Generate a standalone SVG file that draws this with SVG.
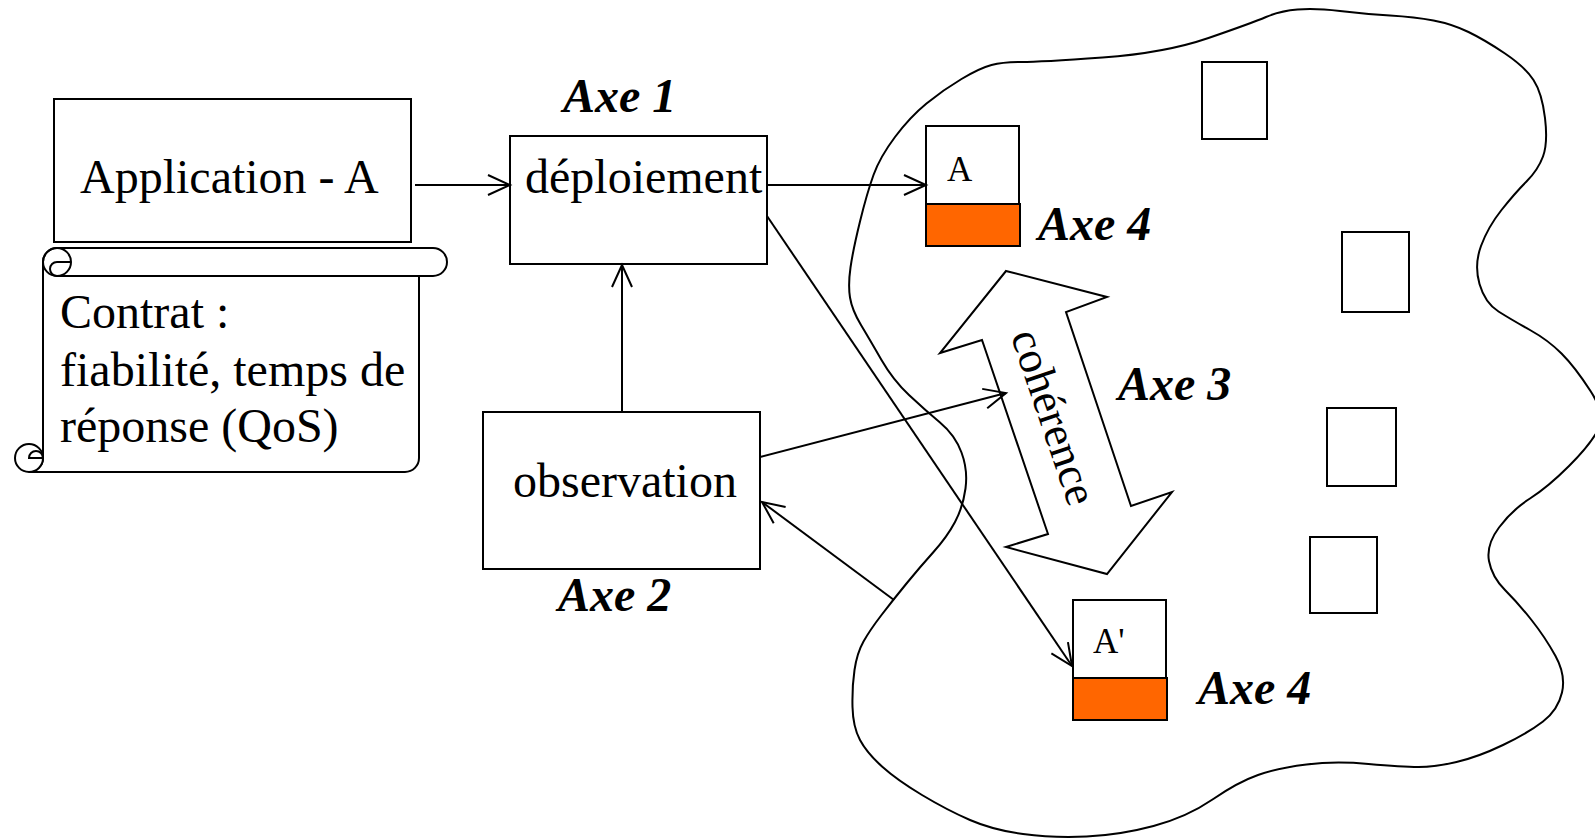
<svg xmlns="http://www.w3.org/2000/svg" width="1595" height="840" viewBox="0 0 1595 840">
<defs>
<style>
.t{font-family:"Liberation Serif","Times New Roman",serif;fill:#000}
.lbl{font-size:48px}
.axe{font-size:48px;font-weight:bold;font-style:italic}
.small{font-size:35px}
.box{fill:#fff;stroke:#000;stroke-width:2}
.org{fill:#FF6600;stroke:#000;stroke-width:2}
.ln{fill:none;stroke:#000;stroke-width:2}
.conn{fill:none;stroke:#000;stroke-width:2;marker-end:url(#arr)}
</style>
<marker id="arr" markerUnits="userSpaceOnUse" markerWidth="26" markerHeight="26" refX="22" refY="11" orient="auto" overflow="visible">
<path d="M0,1 L22,11 L0,21" fill="none" stroke="#000" stroke-width="2"/>
</marker>
</defs>
<rect width="1595" height="840" fill="#fff"/>

<g id="cloud">
<path class="ln" d="M 991.5,65 Q 1003,62 1021.5,62 Q 1040,62 1102.5,57.5 Q 1165,53 1208.5,38 Q 1252,23 1266,17 Q 1280,11 1297.5,9.5 Q 1315,8 1340,11 Q 1365,14 1390,15.5 Q 1415,17 1433.5,20.5 Q 1452,24 1468.5,32 Q 1485,40 1505,53.5 Q 1525,67 1533.5,80 Q 1542,93 1545,118 Q 1548,143 1543,156.5 Q 1538,170 1526.5,181.5 Q 1515,193 1501.5,210 Q 1488,227 1481,246 Q 1474,265 1479.5,284 Q 1485,303 1498.5,311.5 Q 1512,320 1530,330 Q 1548,340 1561.5,353.5 Q 1575,367 1590.5,391 Q 1606,415 1598,430 Q 1590,445 1569,466 Q 1548,487 1530,498.5 Q 1512,510 1499,527.5 Q 1486,545 1489,561 Q 1492,577 1505,590 Q 1518,603 1531.5,620 Q 1545,637 1555.5,656 Q 1566,675 1562,692.5 Q 1558,710 1543,721.5 Q 1528,733 1503,745 Q 1478,757 1456.5,762 Q 1435,767 1418.5,767 Q 1402,767 1368.5,764 Q 1335,761 1306.5,764.5 Q 1278,768 1258,775 Q 1238,782 1212.5,799.5 Q 1187,817 1153.5,826 Q 1120,835 1086.5,836.5 Q 1053,838 1023,834 Q 993,830 970,820 Q 947,810 922,795 Q 897,780 882,766.5 Q 867,753 860,740 Q 853,727 852.5,707 Q 852,687 854.5,670 Q 857,653 863.5,641.5 Q 870,630 881.5,615 Q 893,600 906.5,583.5 Q 920,567 933.5,552 Q 947,537 955,522 Q 963,507 965.5,488.5 Q 968,470 961.5,452.5 Q 955,435 940,422.5 Q 925,410 909,395 Q 893,380 881.5,360 Q 870,340 861,325 Q 852,310 850,297.5 Q 848,285 850.5,267.5 Q 853,250 860,221.5 Q 867,193 873.5,175 Q 880,157 895,137 Q 910,117 926.5,103.5 Q 943,90 961.5,79 Q 980,68 991.5,65 Z"/>
</g>

<g id="application">
<rect class="box" x="54" y="99" width="357" height="143"/>
<text class="t lbl" x="80" y="193">Application - A</text>
</g>

<g id="contrat">
<path class="box" d="M 57,248 L 433,248 A 14 14 0 0 1 433,276 L 419,276 L 419,458 A 14 14 0 0 1 405,472 L 29,472 A 14 14 0 0 0 43,458 L 43,262 A 14 14 0 0 1 57,248 Z"/>
<path class="ln" d="M 57,276 L 419,276"/>
<circle class="ln" cx="57" cy="262" r="14"/>
<path class="ln" d="M 71,262 L 57,262 A 7 7 0 0 0 57,276"/>
<circle class="box" cx="29" cy="458" r="14"/>
<path class="ln" d="M 43,458 L 29,458 A 7 7 0 0 1 43,458"/>
<text class="t lbl" x="60" y="328">Contrat :</text>
<text class="t lbl" x="60" y="386">fiabilité, temps de</text>
<text class="t lbl" x="60" y="442">réponse (QoS)</text>
</g>

<g id="deploiement">
<rect class="box" x="510" y="136" width="257" height="128"/>
<text class="t lbl" x="525" y="193">déploiement</text>
</g>
<text id="axe1" class="t axe" x="563" y="112">Axe 1</text>

<g id="observation">
<rect class="box" x="483" y="412" width="277" height="157"/>
<text class="t lbl" x="513" y="497">observation</text>
</g>
<text id="axe2" class="t axe" x="558" y="611">Axe 2</text>

<g id="coherence">
<polygon class="box" points="1006,271 1107,297 1066,312 1131,506 1172,492 1107,574 1006,547 1048,534 982,340 940,353"/>
<text class="t" font-size="45" text-anchor="middle" transform="translate(1054,417) rotate(71.2)" x="0" y="15">cohérence</text>
</g>
<text id="axe3" class="t axe" x="1118" y="400">Axe 3</text>

<g id="compA">
<rect class="box" x="926" y="126" width="93" height="78"/>
<rect class="org" x="926" y="204" width="94" height="42"/>
<text class="t small" x="947" y="181">A</text>
</g>
<text id="axe4a" class="t axe" x="1038" y="240">Axe 4</text>

<g id="compA2">
<rect class="box" x="1073" y="600" width="93" height="78"/>
<rect class="org" x="1073" y="678" width="94" height="42"/>
<text class="t small" x="1093" y="653">A'</text>
</g>
<text id="axe4b" class="t axe" x="1198" y="704">Axe 4</text>

<g id="node1"><rect class="box" x="1202" y="62" width="65" height="77"/></g>
<g id="node2"><rect class="box" x="1342" y="232" width="67" height="80"/></g>
<g id="node3"><rect class="box" x="1327" y="408" width="69" height="78"/></g>
<g id="node4"><rect class="box" x="1310" y="537" width="67" height="76"/></g>

<g id="connectors">
<line class="conn" x1="415" y1="185" x2="510" y2="185"/>
<line class="conn" x1="767" y1="185" x2="926" y2="185"/>
<line class="conn" x1="622" y1="411" x2="622" y2="265"/>
<line class="conn" x1="767" y1="216" x2="1072" y2="666"/>
<line class="conn" x1="760" y1="457" x2="1006" y2="393"/>
<line class="conn" x1="894" y1="600" x2="762" y2="502"/>
</g>
</svg>
